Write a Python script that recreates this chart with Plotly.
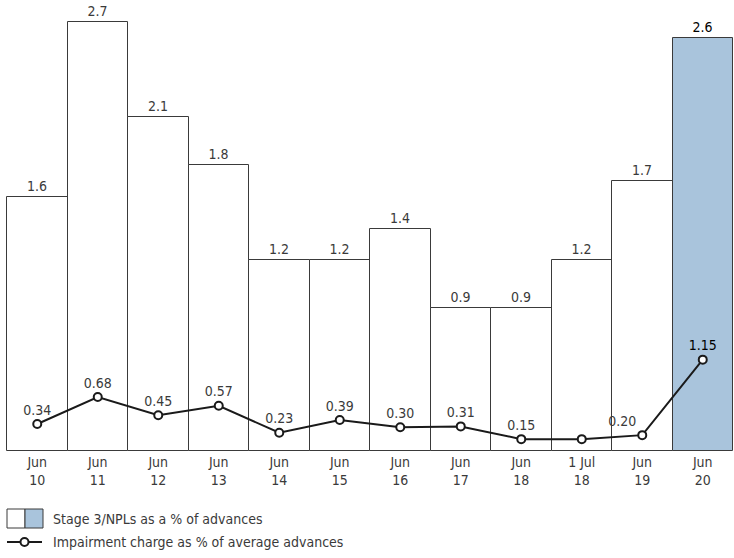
import plotly.graph_objects as go

# Periods on the x axis
categories = ["Jun<br>10", "Jun<br>11", "Jun<br>12", "Jun<br>13", "Jun<br>14", "Jun<br>15",
              "Jun<br>16", "Jun<br>17", "Jun<br>18", "1 Jul<br>18", "Jun<br>19", "Jun<br>20"]

# Stage 3/NPLs as a % of advances
npl_values = [1.6, 2.7, 2.1, 1.8, 1.2, 1.2, 1.4, 0.9, 0.9, 1.2, 1.7, 2.6]
npl_labels = ["1.6", "2.7", "2.1", "1.8", "1.2", "1.2", "1.4", "0.9", "0.9", "1.2", "1.7", "2.6"]

# Impairment charge as % of average advances
impairment_values = [0.34, 0.68, 0.45, 0.57, 0.23, 0.39, 0.30, 0.31, 0.15, 0.15, 0.20, 1.15]
impairment_labels = ["0.34", "0.68", "0.45", "0.57", "0.23", "0.39", "0.30", "0.31", "0.15", "", "0.20", "1.15"]

FONT = "DejaVu Sans Condensed, Liberation Sans Narrow, Arial Narrow, sans-serif"
FS = 14
EDGE = "#3a3a3a"
BLUE = "#a9c4dc"
TEXT = "#3a3a3a"
W, H = 734, 558
PLOT_H = 452

n = len(categories)
bar_fill = ["white"] * (n - 1) + [BLUE]
bar_text_col = [TEXT] * (n - 1) + ["#000000"]
line_text_col = [TEXT] * (n - 1) + ["#000000"]
# nudge the Jun 19 label off the rising segment
line_text_pos = ["top center"] * n
line_text_pos[10] = "top left"

Y_MAX = 2.838

fig = go.Figure()
fig.add_trace(go.Bar(
    x=categories, y=npl_values,
    marker=dict(color=bar_fill, line=dict(color=EDGE, width=1)),
    text=npl_labels, textposition="outside",
    textfont=dict(family=FONT, size=FS, color=bar_text_col),
    cliponaxis=False, showlegend=False, hoverinfo="skip",
))
fig.add_trace(go.Scatter(
    x=categories, y=impairment_values, yaxis="y2",
    mode="lines+markers+text",
    line=dict(color="#1a1a1a", width=2),
    marker=dict(size=8, color="white", line=dict(color="#1a1a1a", width=2)),
    text=impairment_labels, textposition=line_text_pos,
    textfont=dict(family=FONT, size=FS, color=line_text_col),
    cliponaxis=False, showlegend=False, hoverinfo="skip",
))

def px(x):
    return x / W

def py(y):
    # pixel row below the plot area -> paper fraction
    return -(y - 451) / PLOT_H

# Hand-built legend below the plot
shapes = [
    dict(type="rect", xref="paper", yref="paper", x0=px(7), x1=px(25), y0=py(508), y1=py(527),
         line=dict(color=EDGE, width=1), fillcolor="white"),
    dict(type="rect", xref="paper", yref="paper", x0=px(25), x1=px(43), y0=py(508), y1=py(527),
         line=dict(color=EDGE, width=1), fillcolor=BLUE),
    dict(type="line", xref="paper", yref="paper", x0=px(7), x1=px(42), y0=py(541), y1=py(541),
         line=dict(color="#1a1a1a", width=2)),
    dict(type="circle", xref="paper", yref="paper", x0=px(20.5), x1=px(28.5), y0=py(537), y1=py(545),
         line=dict(color="#1a1a1a", width=2), fillcolor="white"),
]
annotations = [
    dict(text="Stage 3/NPLs as a % of advances", xref="paper", yref="paper", x=px(51), y=py(517.5),
         xanchor="left", yanchor="middle", showarrow=False,
         font=dict(family=FONT, size=FS, color=TEXT)),
    dict(text="Impairment charge as % of average advances", xref="paper", yref="paper", x=px(51), y=py(541),
         xanchor="left", yanchor="middle", showarrow=False,
         font=dict(family=FONT, size=FS, color=TEXT)),
]

step = 726 / n
fig.update_layout(
    width=W, height=H,
    margin=dict(l=0, r=0, t=0, b=H - PLOT_H),
    paper_bgcolor="white", plot_bgcolor="white",
    bargap=0,
    font=dict(family=FONT, size=FS, color=TEXT),
    xaxis=dict(range=[-0.5 - 7 / step, n - 0.5 + 1 / step], showgrid=False, zeroline=False,
               showline=False, ticks="", automargin=False,
               tickfont=dict(family=FONT, size=FS, color=TEXT), fixedrange=True),
    yaxis=dict(range=[-0.006, Y_MAX], visible=False, fixedrange=True),
    yaxis2=dict(range=[-0.012, 2 * Y_MAX], overlaying="y", visible=False, fixedrange=True),
    shapes=shapes, annotations=annotations,
)

fig.write_html("out.html")
